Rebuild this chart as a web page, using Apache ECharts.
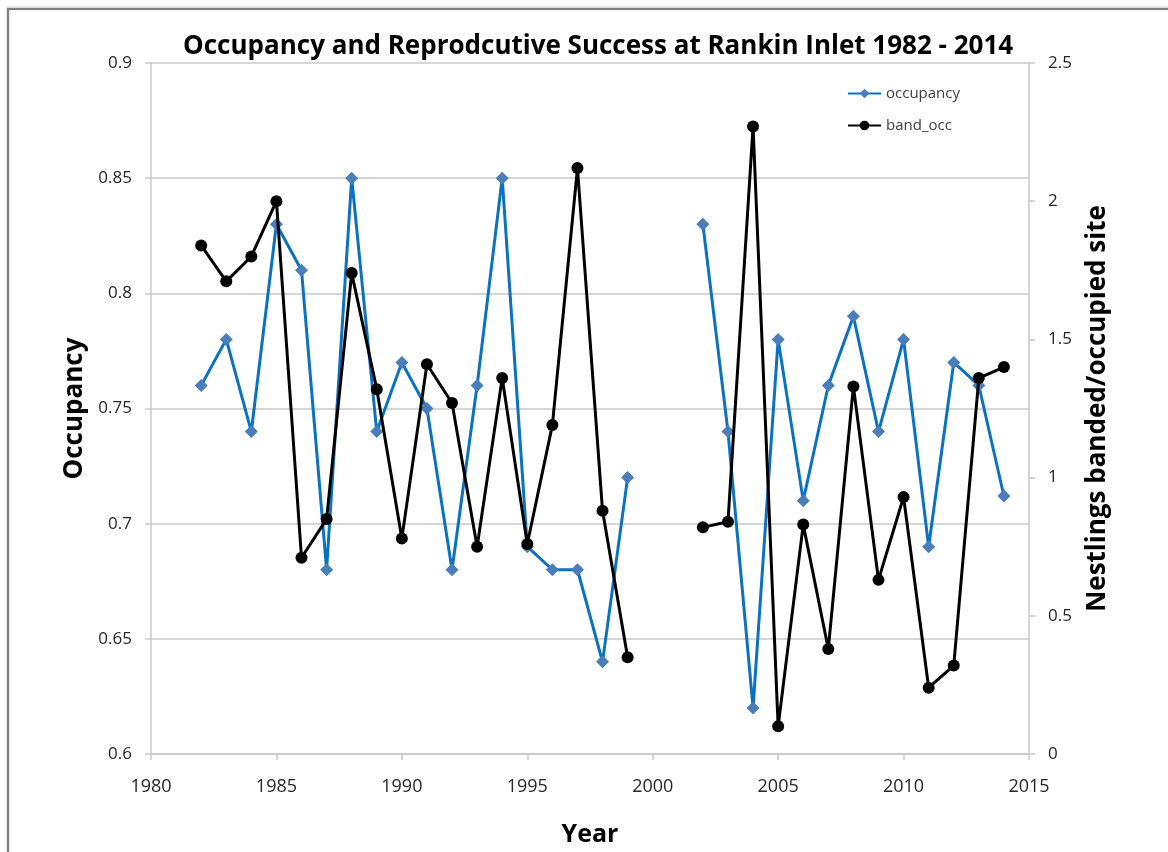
<!DOCTYPE html>
<html>
<head>
<meta charset="utf-8">
<script src="https://cdn.jsdelivr.net/npm/echarts@6/dist/echarts.min.js"></script>
<style>
html,body{margin:0;padding:0;background:#fff;}
#main{width:1168px;height:852px;}
</style>
</head>
<body>
<div id="main"></div>
<script>
const years = [1982,1983,1984,1985,1986,1987,1988,1989,1990,1991,1992,1993,1994,1995,1996,1997,1998,1999,2000,2001,2002,2003,2004,2005,2006,2007,2008,2009,2010,2011,2012,2013,2014];
const occupancy = [0.76,0.78,0.74,0.83,0.81,0.68,0.85,0.74,0.77,0.75,0.68,0.76,0.85,0.69,0.68,0.68,0.64,0.72,null,null,0.83,0.74,0.62,0.78,0.71,0.76,0.79,0.74,0.78,0.69,0.77,0.76,0.712];
const bandOcc = [1.84,1.71,1.80,2.00,0.71,0.85,1.74,1.32,0.78,1.41,1.27,0.75,1.36,0.76,1.19,2.12,0.88,0.35,null,null,0.82,0.84,2.27,0.10,0.83,0.38,1.33,0.63,0.93,0.24,0.32,1.36,1.40];
const xTicks = [1980,1985,1990,1995,2000,2005,2010,2015];
const leftTicks = [0.6,0.65,0.7,0.75,0.8,0.85,0.9];
const rightTicks = [0,0.5,1,1.5,2,2.5];

const FONT = "'Liberation Sans Narrow','Open Sans',sans-serif";
const toPairs = (vals) => years.map((y,i) => [y, vals[i] == null ? '-' : vals[i]]);

const chart = echarts.init(document.getElementById('main'), null, {renderer:'canvas'});
chart.setOption({
  animation:false,
  backgroundColor:'#fff',
  textStyle:{fontFamily:FONT},
  graphic:[{
    type:'rect', z:-1,
    shape:{x:8,y:9,width:1200,height:900},
    style:{fill:'none',stroke:'#7f7f7f',lineWidth:2,shadowColor:'rgba(0,0,0,0.25)',shadowBlur:3,shadowOffsetY:-1}
  }],
  title:{
    text:'Occupancy and Reprodcutive Success at Rankin Inlet 1982 - 2014',
    left:178, top:29,
    textStyle:{fontFamily:FONT,fontSize:26,fontWeight:'bold',color:'#000'}
  },
  legend:{
    orient:'vertical', left:842, top:81,
    itemWidth:33, itemHeight:12, itemGap:17,
    textStyle:{fontFamily:FONT,fontSize:15,color:'#404040'},
    data:['occupancy','band_occ']
  },
  grid:{left:151,right:139,top:63,bottom:96,containLabel:false},
  xAxis:{
    type:'value', min:xTicks[0], max:xTicks[xTicks.length-1], interval:5,
    name:'Year', nameLocation:'middle', nameGap:68,
    nameTextStyle:{fontFamily:FONT,fontSize:25,fontWeight:'bold',color:'#000'},
    axisLine:{show:true,lineStyle:{color:'#c8c8c8',width:1.5}},
    axisTick:{show:true,length:6,lineStyle:{color:'#c8c8c8',width:1.5}},
    axisLabel:{fontFamily:FONT,fontSize:18,color:'#262626',margin:24,formatter:v=>String(v)},
    splitLine:{show:false}
  },
  yAxis:[{
    type:'value', min:leftTicks[0], max:leftTicks[leftTicks.length-1], interval:0.05,
    name:'Occupancy', nameLocation:'middle', nameGap:62, nameRotate:90,
    nameTextStyle:{fontFamily:FONT,fontSize:26,fontWeight:'bold',color:'#000'},
    axisLine:{show:true,lineStyle:{color:'#c8c8c8',width:1.5}},
    axisTick:{show:true,length:6,lineStyle:{color:'#c8c8c8',width:1.5}},
    axisLabel:{fontFamily:FONT,fontSize:17,color:'#262626',margin:19,formatter:v=>String(+v.toFixed(2))},
    splitLine:{show:true,lineStyle:{color:'#c8c8c8',width:1.5}}
  },{
    type:'value', min:rightTicks[0], max:rightTicks[rightTicks.length-1], interval:0.5, position:'right',
    name:'Nestlings banded/occupied site', nameLocation:'middle', nameGap:56, nameRotate:90,
    nameTextStyle:{fontFamily:FONT,fontSize:26,fontWeight:'bold',color:'#000'},
    axisLine:{show:true,lineStyle:{color:'#c8c8c8',width:1.5}},
    axisTick:{show:true,length:6,lineStyle:{color:'#c8c8c8',width:1.5}},
    axisLabel:{fontFamily:FONT,fontSize:17,color:'#262626',margin:19,formatter:v=>String(+v.toFixed(2))},
    splitLine:{show:false}
  }],
  series:[{
    name:'occupancy', type:'line', yAxisIndex:0,
    data:toPairs(occupancy), connectNulls:false,
    symbol:'diamond', symbolSize:13, showAllSymbol:true,
    lineStyle:{color:'#0b72c2',width:3},
    itemStyle:{color:'#4a7ebb'},
    z:2
  },{
    name:'band_occ', type:'line', yAxisIndex:1,
    data:toPairs(bandOcc), connectNulls:false,
    symbol:'circle', symbolSize:12, showAllSymbol:true,
    lineStyle:{color:'#000',width:3},
    itemStyle:{color:'#000'},
    z:3
  }]
});
</script>
</body>
</html>
